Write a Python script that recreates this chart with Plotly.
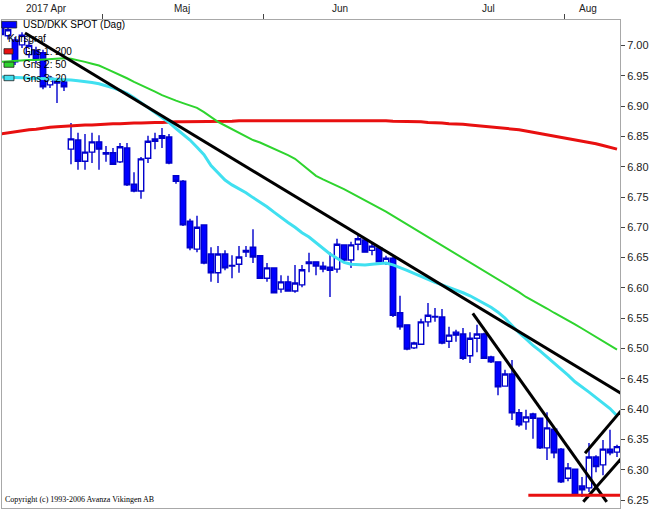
import plotly.graph_objects as go

# trading days (weekdays) shown in the chart
dates = [
    "2017-04-10", "2017-04-11", "2017-04-12", "2017-04-13", "2017-04-14",
    "2017-04-17", "2017-04-18", "2017-04-19", "2017-04-20", "2017-04-21",
    "2017-04-24", "2017-04-25", "2017-04-26", "2017-04-27", "2017-04-28",
    "2017-05-01", "2017-05-02", "2017-05-03", "2017-05-04", "2017-05-05",
    "2017-05-08", "2017-05-09", "2017-05-10", "2017-05-11", "2017-05-12",
    "2017-05-15", "2017-05-16", "2017-05-17", "2017-05-18", "2017-05-19",
    "2017-05-22", "2017-05-23", "2017-05-24", "2017-05-25", "2017-05-26",
    "2017-05-29", "2017-05-30", "2017-05-31", "2017-06-01", "2017-06-02",
    "2017-06-05", "2017-06-06", "2017-06-07", "2017-06-08", "2017-06-09",
    "2017-06-12", "2017-06-13", "2017-06-14", "2017-06-15", "2017-06-16",
    "2017-06-19", "2017-06-20", "2017-06-21", "2017-06-22", "2017-06-23",
    "2017-06-26", "2017-06-27", "2017-06-28", "2017-06-29", "2017-06-30",
    "2017-07-03", "2017-07-04", "2017-07-05", "2017-07-06", "2017-07-07",
    "2017-07-10", "2017-07-11", "2017-07-12", "2017-07-13", "2017-07-14",
    "2017-07-17", "2017-07-18", "2017-07-19", "2017-07-20", "2017-07-21",
    "2017-07-24", "2017-07-25", "2017-07-26", "2017-07-27", "2017-07-28",
    "2017-07-31", "2017-08-01", "2017-08-02", "2017-08-03", "2017-08-04",
    "2017-08-07", "2017-08-08", "2017-08-09", "2017-08-10",
]

opens = [
    7.030, 7.016, 7.009, 7.001, 6.985, 6.992, 6.988, 6.935, 6.945, 6.940,
    6.829, 6.844, 6.809, 6.824, 6.841, 6.821, 6.823, 6.808, 6.831, 6.771,
    6.760, 6.814, 6.842, 6.847, 6.849, 6.785, 6.776, 6.710, 6.664, 6.704,
    6.656, 6.625, 6.656, 6.636, 6.639, 6.659, 6.667, 6.653, 6.616, 6.633,
    6.598, 6.610, 6.595, 6.605, 6.640, 6.643, 6.636, 6.634, 6.631, 6.671,
    6.646, 6.672, 6.679, 6.662, 6.666, 6.641, 6.649, 6.559, 6.539, 6.501,
    6.507, 6.544, 6.552, 6.552, 6.512, 6.527, 6.524, 6.488, 6.517, 6.524,
    6.486, 6.478, 6.438, 6.458, 6.394, 6.379, 6.392, 6.385, 6.336, 6.367,
    6.334, 6.286, 6.301, 6.273, 6.270, 6.321, 6.308, 6.334, 6.329,
]
highs = [
    7.036, 7.033, 7.014, 7.022, 7.008, 6.998, 6.993, 6.950, 6.947, 6.945,
    6.872, 6.856, 6.854, 6.856, 6.852, 6.834, 6.831, 6.839, 6.839, 6.791,
    6.816, 6.851, 6.856, 6.864, 6.854, 6.786, 6.778, 6.714, 6.719, 6.705,
    6.667, 6.669, 6.662, 6.654, 6.669, 6.669, 6.697, 6.654, 6.641, 6.634,
    6.621, 6.620, 6.638, 6.638, 6.658, 6.644, 6.643, 6.659, 6.681, 6.672,
    6.676, 6.687, 6.682, 6.674, 6.669, 6.653, 6.651, 6.587, 6.539, 6.511,
    6.549, 6.575, 6.567, 6.565, 6.536, 6.531, 6.534, 6.527, 6.539, 6.526,
    6.488, 6.478, 6.465, 6.481, 6.400, 6.399, 6.394, 6.386, 6.395, 6.369,
    6.336, 6.311, 6.302, 6.288, 6.344, 6.324, 6.349, 6.366, 6.341,
]
lows = [
    7.012, 7.010, 6.968, 6.996, 6.980, 6.970, 6.928, 6.930, 6.905, 6.925,
    6.804, 6.795, 6.795, 6.806, 6.795, 6.808, 6.803, 6.806, 6.768, 6.758,
    6.747, 6.806, 6.829, 6.831, 6.804, 6.772, 6.702, 6.662, 6.659, 6.639,
    6.610, 6.608, 6.629, 6.616, 6.625, 6.651, 6.641, 6.615, 6.610, 6.591,
    6.592, 6.595, 6.592, 6.601, 6.626, 6.621, 6.626, 6.585, 6.625, 6.644,
    6.633, 6.662, 6.658, 6.654, 6.642, 6.638, 6.552, 6.531, 6.497, 6.499,
    6.506, 6.536, 6.544, 6.507, 6.501, 6.511, 6.481, 6.476, 6.494, 6.483,
    6.476, 6.423, 6.437, 6.382, 6.371, 6.366, 6.351, 6.334, 6.316, 6.319,
    6.278, 6.281, 6.257, 6.255, 6.263, 6.296, 6.291, 6.324, 6.321,
]
closes = [
    7.018, 7.026, 6.973, 7.017, 7.000, 6.977, 6.932, 6.946, 6.938, 6.932,
    6.846, 6.809, 6.824, 6.841, 6.829, 6.823, 6.804, 6.833, 6.770, 6.760,
    6.813, 6.842, 6.846, 6.851, 6.806, 6.776, 6.704, 6.666, 6.700, 6.641,
    6.625, 6.656, 6.633, 6.637, 6.651, 6.662, 6.651, 6.616, 6.633, 6.592,
    6.610, 6.595, 6.608, 6.630, 6.643, 6.636, 6.631, 6.629, 6.672, 6.646,
    6.671, 6.681, 6.659, 6.669, 6.643, 6.649, 6.555, 6.536, 6.499, 6.509,
    6.544, 6.555, 6.553, 6.509, 6.522, 6.522, 6.484, 6.517, 6.524, 6.484,
    6.478, 6.437, 6.458, 6.394, 6.374, 6.387, 6.385, 6.336, 6.369, 6.328,
    6.280, 6.303, 6.258, 6.267, 6.321, 6.305, 6.334, 6.328, 6.338,
]

# moving averages
ma200 = [
    6.854, 6.856, 6.858, 6.860, 6.861, 6.862, 6.864, 6.865, 6.866, 6.867,
    6.868, 6.868, 6.869, 6.869, 6.870, 6.870, 6.871, 6.871, 6.872, 6.872,
    6.872, 6.873, 6.873, 6.873, 6.874, 6.874, 6.874, 6.874, 6.874, 6.875,
    6.875, 6.875, 6.875, 6.875, 6.876, 6.876, 6.876, 6.876, 6.877, 6.877,
    6.877, 6.877, 6.877, 6.877, 6.877, 6.877, 6.877, 6.877, 6.877, 6.877,
    6.877, 6.877, 6.877, 6.876, 6.876, 6.876, 6.875, 6.875, 6.875, 6.874,
    6.874, 6.873, 6.873, 6.872, 6.871, 6.871, 6.870, 6.869, 6.868, 6.867,
    6.866, 6.865, 6.864, 6.862, 6.861, 6.859, 6.857, 6.855, 6.853, 6.851,
    6.849, 6.847, 6.845, 6.843, 6.840, 6.838, 6.835, 6.832, 6.829,
]
ma50 = [
    6.973, 6.974, 6.975, 6.975, 6.976, 6.976, 6.977, 6.978, 6.979, 6.979,
    6.978, 6.976, 6.973, 6.970, 6.967, 6.962, 6.957, 6.952, 6.946, 6.940,
    6.935, 6.930, 6.924, 6.918, 6.913, 6.909, 6.905, 6.901, 6.897, 6.890,
    6.882, 6.874, 6.868, 6.862, 6.856, 6.850, 6.844, 6.840, 6.835, 6.830,
    6.825, 6.819, 6.813, 6.804, 6.795, 6.785, 6.779, 6.774, 6.768, 6.763,
    6.757, 6.751, 6.745, 6.739, 6.733, 6.726, 6.719, 6.712, 6.705, 6.698,
    6.691, 6.684, 6.677, 6.670, 6.663, 6.656, 6.649, 6.643, 6.636, 6.629,
    6.622, 6.615, 6.608, 6.600, 6.593, 6.585, 6.579, 6.572, 6.566, 6.559,
    6.553, 6.546, 6.540, 6.533, 6.526, 6.519, 6.512, 6.505, 6.498,
]
ma20 = [
    6.948, 6.948, 6.947, 6.947, 6.946, 6.946, 6.945, 6.945, 6.944, 6.944,
    6.943, 6.942, 6.941, 6.939, 6.937, 6.934, 6.930, 6.926, 6.921, 6.914,
    6.906, 6.898, 6.890, 6.881, 6.873, 6.863, 6.854, 6.844, 6.832, 6.820,
    6.802, 6.790, 6.778, 6.770, 6.764, 6.757, 6.749, 6.742, 6.734, 6.725,
    6.716, 6.708, 6.700, 6.691, 6.684, 6.675, 6.666, 6.656, 6.649, 6.642,
    6.639, 6.638, 6.638, 6.639, 6.640, 6.641, 6.638, 6.634, 6.629, 6.624,
    6.619, 6.613, 6.609, 6.605, 6.601, 6.596, 6.592, 6.587, 6.581, 6.575,
    6.568, 6.560, 6.550, 6.538, 6.526, 6.516, 6.505, 6.496, 6.486, 6.477,
    6.466, 6.456, 6.445, 6.437, 6.428, 6.419, 6.410, 6.401, 6.389,
]

# hand-drawn trend lines (start / end)
trend_main_x = ["2017-04-13 22:20", "2017-08-11 12:00"]
trend_main_y = [7.0206, 6.423]
trend_steep_x = ["2017-07-12 21:36", "2017-08-09 00:45"]
trend_steep_y = [6.558, 6.247]
channel_top_x = ["2017-08-03 22:20", "2017-08-11 04:00"]
channel_top_y = [6.327, 6.3985]
channel_low_x = ["2017-08-03 16:30", "2017-08-11 04:00"]
channel_low_y = [6.247, 6.319]
support_x = ["2017-07-24 20:00", "2017-08-11 12:00"]
support_y = [6.258, 6.258]

month_starts = ["2017-05-01", "2017-06-01", "2017-07-01", "2017-08-01"]
month_labels = ["2017 Apr", "Maj", "Jun", "Jul", "Aug"]
y_ticks = [6.25, 6.30, 6.35, 6.40, 6.45, 6.50, 6.55, 6.60, 6.65, 6.70,
           6.75, 6.80, 6.85, 6.90, 6.95, 7.00]

BLUE = "#0000ff"
RED = "#e81010"
GREEN = "#2ed42e"
CYAN = "#40e0f0"

x = [d + " 12:00" for d in dates]

fig = go.Figure()
fig.add_trace(go.Candlestick(
    x=x, open=opens, high=highs, low=lows, close=closes,
    increasing=dict(line=dict(color="#0000cc", width=1.4), fillcolor="white"),
    decreasing=dict(line=dict(color="#0000cc", width=1.4), fillcolor=BLUE),
    whiskerwidth=0, showlegend=False, hoverinfo="skip",
))
fig.add_trace(go.Scatter(x=x, y=ma200, mode="lines", line=dict(color=RED, width=3), showlegend=False))
fig.add_trace(go.Scatter(x=x, y=ma50, mode="lines", line=dict(color=GREEN, width=2), showlegend=False))
fig.add_trace(go.Scatter(x=x, y=ma20, mode="lines", line=dict(color=CYAN, width=3), showlegend=False))

for tx, ty in [(trend_main_x, trend_main_y), (trend_steep_x, trend_steep_y),
               (channel_top_x, channel_top_y), (channel_low_x, channel_low_y)]:
    fig.add_trace(go.Scatter(x=tx, y=ty, mode="lines", line=dict(color="black", width=3),
                             showlegend=False))
fig.add_trace(go.Scatter(x=support_x, y=support_y, mode="lines", line=dict(color=RED, width=3),
                         showlegend=False))

# legend drawn by hand, like the original
legend_rows = [
    ("USD/DKK SPOT (Dag)", BLUE, 0.9904, (-0.0005, 0.0238, 0.9836, 0.9973)),
    ("Kursgraf", None, 0.9617, None),
    ("Gns 1: 200", RED, 0.9359, (0.0032, 0.0178, 0.9303, 0.9412)),
    ("Gns 2: 50", GREEN, 0.9084, (0.0032, 0.0194, 0.9031, 0.9139)),
    ("Gns 3: 20", CYAN, 0.8811, (0.0032, 0.0194, 0.8756, 0.8867)),
]
for text, color, ypos, box in legend_rows:
    fig.add_annotation(x=0.0303 if box else 0.0065, y=ypos, xref="paper", yref="paper",
                       text=text, showarrow=False, xanchor="left", yanchor="middle",
                       font=dict(size=10, color="black"))
    if box:
        fig.add_shape(type="rect", xref="paper", yref="paper",
                      x0=box[0], x1=box[1], y0=box[2], y1=box[3],
                      fillcolor=color, line=dict(color="#202020", width=0.8))

for lx, lab in zip([0.0712, 0.2913, 0.5469, 0.788, 0.948], month_labels):
    fig.add_annotation(x=lx, y=1, xref="paper", yref="paper", text=lab, showarrow=False,
                       xanchor="center", yanchor="bottom", yshift=4,
                       font=dict(size=10, color="#222222"))

fig.add_annotation(x=0.0016, y=0.0164, xref="paper", yref="paper",
                   text="Copyright (c) 1993-2006 Avanza Vikingen AB", showarrow=False,
                   xanchor="left", yanchor="middle",
                   font=dict(family="Liberation Serif", size=8, color="black"))

fig.update_layout(
    width=656, height=509,
    margin=dict(l=2, r=36, t=20, b=1),
    paper_bgcolor="white", plot_bgcolor="white",
    showlegend=False,
    font=dict(family="Liberation Sans", size=11, color="#222222"),
    boxgap=0.12, boxgroupgap=0.12,
    xaxis=dict(
        type="date", side="top",
        range=["2017-04-10 15:26", "2017-08-10 22:17"],
        rangebreaks=[dict(bounds=["sat", "mon"])],
        rangeslider=dict(visible=False),
        tickmode="array", tickvals=month_starts, ticktext=[""] * len(month_starts),
        ticks="outside", ticklen=5, tickcolor="#444444",
        showgrid=False, zeroline=False,
        showline=True, mirror=True, linecolor="#a8a8a8", linewidth=1,
        automargin=False,
    ),
    yaxis=dict(
        side="right", range=[6.2368, 7.0421],
        tickmode="array", tickvals=y_ticks, ticktext=["%.2f" % v for v in y_ticks],
        ticks="outside", ticklen=4, tickcolor="#444444",
        tickfont=dict(size=11, color="#222222"),
        showgrid=False, zeroline=False,
        showline=True, mirror=True, linecolor="#a8a8a8", linewidth=1,
        automargin=False,
    ),
)

# the page's default body margin would push the 656x509 figure out of the window
fig.write_html("out.html", config={"displayModeBar": False},
               post_script="document.body.style.margin = '0';")
